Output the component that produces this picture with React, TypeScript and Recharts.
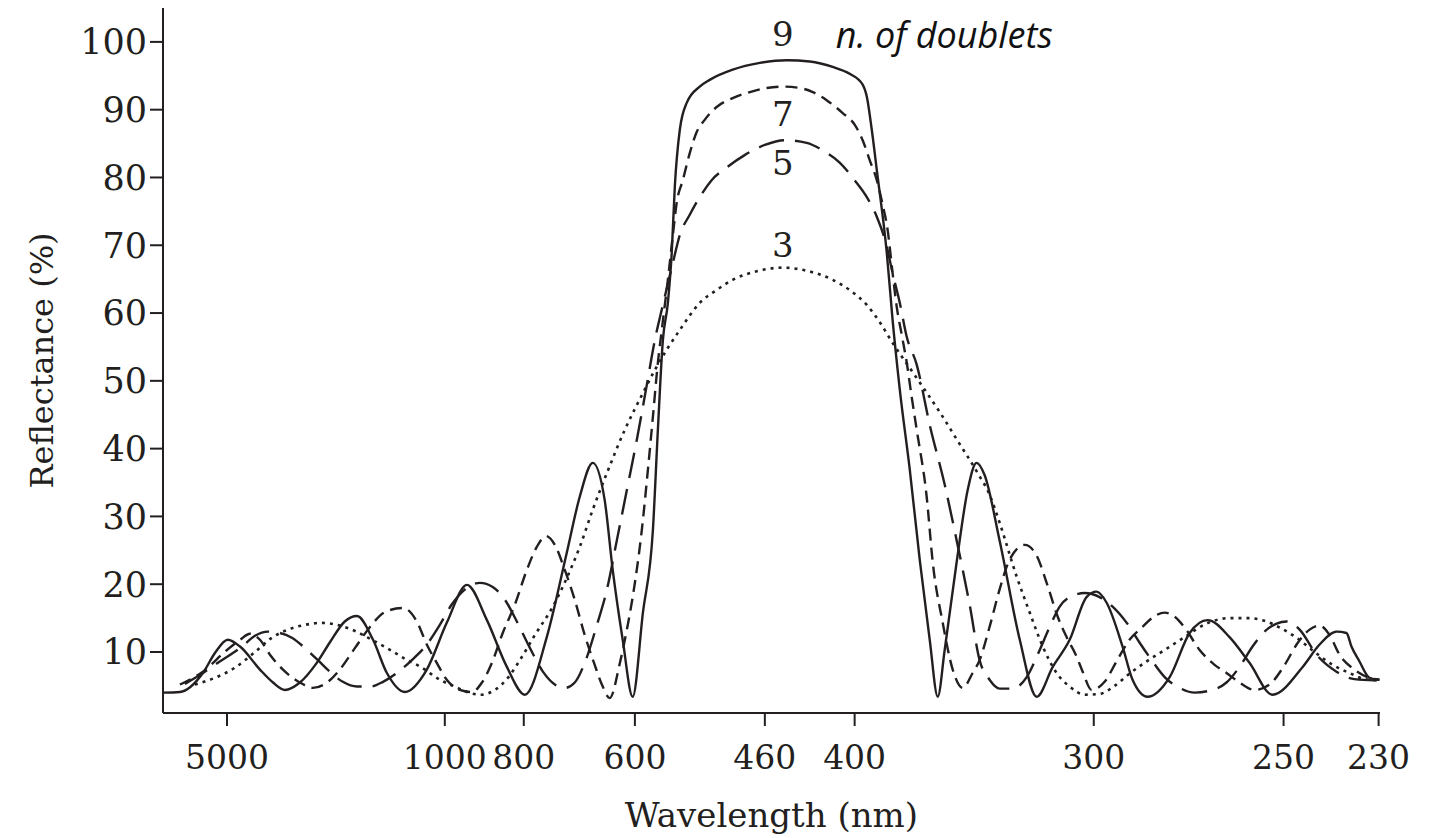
import { LineChart, Line, XAxis, YAxis, ReferenceDot } from "recharts";

// x = wavenumber (1/µm), labelled below in wavelength (nm)
const wavelengthTicks = [0.195, 0.981, 1.266, 1.667, 2.136, 2.46, 3.323, 4.008, 4.351];
const wavelengthLabels = ["5000", "1000", "800", "600", "460", "400", "300", "250", "230"];
const reflectanceTicks = [10, 20, 30, 40, 50, 60, 70, 80, 90, 100];

// [wavenumber, reflectance %]
const nineDoublets: [number, number][] = [
  [-0.036, 4.0], [0.025, 4.1], [0.108, 6.9], [0.152, 9.9], [0.198, 11.8], [0.242, 10.8],
  [0.314, 7.4], [0.361, 5.5], [0.404, 4.4], [0.458, 5.5], [0.519, 8.4], [0.566, 11.4],
  [0.62, 14.5], [0.664, 15.3], [0.722, 11.8], [0.772, 6.9], [0.837, 4.1], [0.916, 7.4],
  [0.988, 14.3], [1.061, 19.9], [1.133, 14.7], [1.205, 7.8], [1.27, 3.7], [1.349, 12.2],
  [1.421, 24.6], [1.468, 32.9], [1.515, 37.9], [1.558, 32.4], [1.587, 22.1], [1.623, 11.8],
  [1.659, 3.4], [1.696, 15.8], [1.732, 28.0], [1.75, 42.8], [1.768, 56.0], [1.786, 61.5],
  [1.8, 68.9], [1.811, 78.6], [1.829, 87.0], [1.854, 91.0], [1.901, 93.4], [1.937, 94.4],
  [2.02, 95.9], [2.118, 96.9], [2.215, 97.3], [2.298, 97.1], [2.381, 96.3], [2.442, 95.3],
  [2.489, 93.7], [2.504, 91.9], [2.522, 87.0], [2.54, 81.1], [2.576, 68.9], [2.597, 59.0],
  [2.623, 48.7], [2.659, 36.9], [2.695, 23.6], [2.731, 11.8], [2.76, 3.4], [2.785, 10.3],
  [2.828, 23.2], [2.868, 33.9], [2.9, 37.9], [2.929, 36.1], [2.983, 26.5], [3.056, 11.8],
  [3.117, 3.4], [3.175, 7.8], [3.236, 11.8], [3.297, 18.1], [3.333, 18.9], [3.369, 17.3],
  [3.427, 10.8], [3.463, 5.9], [3.517, 3.4], [3.597, 6.3], [3.669, 12.8], [3.734, 14.7],
  [3.813, 12.2], [3.885, 8.4], [3.968, 3.7], [4.077, 7.8], [4.138, 11.1], [4.199, 13.0],
  [4.235, 12.8], [4.253, 10.8], [4.282, 8.6], [4.318, 6.2], [4.354, 5.9],
];

const sevenDoublets: [number, number][] = [
  [0.025, 5.2], [0.108, 7.1], [0.195, 10.3], [0.242, 11.8], [0.278, 12.7], [0.314, 11.8],
  [0.35, 9.6], [0.397, 7.4], [0.458, 5.5], [0.505, 4.7], [0.556, 5.5], [0.602, 7.4],
  [0.657, 10.6], [0.711, 13.7], [0.765, 15.9], [0.83, 16.5], [0.88, 14.5], [0.916, 11.1],
  [0.952, 8.4], [0.988, 5.9], [1.035, 4.4], [1.079, 4.1], [1.115, 5.5], [1.151, 8.4],
  [1.19, 12.8], [1.234, 17.0], [1.277, 22.1], [1.313, 25.5], [1.346, 27.1], [1.378, 25.8],
  [1.414, 22.1], [1.45, 17.7], [1.486, 12.5], [1.522, 8.1], [1.551, 4.9], [1.576, 3.2],
  [1.613, 8.4], [1.638, 13.3], [1.659, 18.1], [1.692, 28.0], [1.714, 36.9], [1.732, 44.7],
  [1.75, 52.7], [1.764, 57.5], [1.786, 64.9], [1.804, 71.5], [1.818, 76.3], [1.84, 79.6],
  [1.865, 83.6], [1.89, 86.7], [1.919, 88.5], [1.962, 90.4], [2.02, 91.7], [2.082, 92.6],
  [2.143, 93.2], [2.201, 93.4], [2.262, 93.2], [2.309, 92.6], [2.359, 91.4], [2.417, 89.5],
  [2.46, 87.8], [2.489, 85.5], [2.514, 82.6], [2.54, 79.6], [2.561, 76.0], [2.579, 72.3],
  [2.597, 65.9], [2.612, 60.9], [2.63, 56.8], [2.648, 52.7], [2.666, 47.6], [2.684, 42.8],
  [2.72, 32.9], [2.742, 23.2], [2.778, 14.3], [2.814, 7.4], [2.85, 4.7], [2.886, 6.9],
  [2.911, 8.8], [2.947, 13.7], [2.983, 19.2], [3.019, 23.6], [3.074, 25.8], [3.117, 24.2],
  [3.153, 20.2], [3.193, 15.2], [3.225, 12.2], [3.258, 9.6], [3.283, 7.1], [3.315, 4.4],
  [3.362, 5.6], [3.405, 8.6], [3.452, 11.8], [3.496, 13.6], [3.543, 15.3], [3.579, 15.8],
  [3.615, 15.2], [3.651, 13.6], [3.705, 10.3], [3.759, 8.1], [3.802, 6.9], [3.849, 5.5],
  [3.903, 4.4], [3.957, 5.2], [4.012, 8.1], [4.055, 11.1], [4.102, 13.3], [4.138, 13.9],
  [4.174, 12.5], [4.21, 9.6], [4.264, 7.4], [4.318, 6.2], [4.354, 5.9],
];

const fiveDoublets: [number, number][] = [
  [0.043, 5.3], [0.097, 6.6], [0.162, 8.4], [0.249, 10.8], [0.296, 12.4], [0.343, 13.0],
  [0.386, 12.8], [0.429, 12.1], [0.476, 10.6], [0.523, 8.8], [0.566, 7.1], [0.613, 5.6],
  [0.664, 4.9], [0.711, 4.9], [0.758, 5.6], [0.808, 6.9], [0.862, 8.8], [0.916, 11.1],
  [0.963, 14.0], [1.006, 17.0], [1.053, 19.2], [1.108, 20.2], [1.154, 19.6], [1.198, 17.7],
  [1.241, 14.5], [1.288, 10.6], [1.335, 7.1], [1.378, 5.2], [1.414, 4.7], [1.45, 5.5],
  [1.486, 8.4], [1.53, 14.0], [1.566, 19.2], [1.602, 26.5], [1.638, 33.9], [1.674, 41.3],
  [1.71, 49.4], [1.739, 56.0], [1.768, 61.2], [1.804, 67.4], [1.829, 71.5], [1.865, 74.5],
  [1.901, 77.1], [1.944, 79.6], [1.999, 81.5], [2.063, 83.3], [2.136, 84.8], [2.208, 85.5],
  [2.287, 85.1], [2.352, 83.8], [2.406, 82.2], [2.46, 79.6], [2.504, 77.1], [2.54, 74.2],
  [2.576, 69.8], [2.597, 65.9], [2.623, 61.5], [2.648, 56.5], [2.684, 52.4], [2.731, 43.5],
  [2.785, 34.7], [2.828, 26.5], [2.875, 17.0], [2.911, 8.8], [2.947, 5.9], [2.983, 4.6],
  [3.03, 4.6], [3.081, 6.3], [3.128, 10.3], [3.164, 13.7], [3.2, 16.7], [3.247, 18.3],
  [3.29, 18.7], [3.344, 18.1], [3.391, 16.7], [3.442, 14.3], [3.488, 11.4], [3.532, 8.8],
  [3.579, 6.3], [3.633, 4.7], [3.687, 4.0], [3.741, 4.3], [3.802, 5.5], [3.849, 7.8],
  [3.896, 10.8], [3.939, 13.0], [3.983, 14.2], [4.019, 14.5], [4.066, 13.3], [4.127, 9.6],
  [4.199, 7.1], [4.264, 6.0], [4.354, 5.8],
];

const threeDoublets: [number, number][] = [
  [0.079, 5.2], [0.152, 6.2], [0.224, 7.7], [0.296, 10.0], [0.357, 12.1], [0.415, 13.3],
  [0.476, 14.0], [0.538, 14.3], [0.602, 13.9], [0.657, 13.1], [0.718, 11.8], [0.776, 10.5],
  [0.837, 9.0], [0.898, 7.7], [0.963, 5.9], [1.017, 4.9], [1.061, 4.1], [1.108, 3.7],
  [1.162, 4.4], [1.209, 6.2], [1.252, 8.8], [1.306, 12.5], [1.371, 16.7], [1.421, 20.9],
  [1.468, 25.5], [1.515, 31.0], [1.566, 36.4], [1.631, 42.8], [1.696, 48.2], [1.739, 51.6],
  [1.782, 54.6], [1.829, 57.5], [1.901, 61.5], [1.962, 63.4], [2.02, 64.9], [2.11, 66.2],
  [2.201, 66.7], [2.291, 66.2], [2.381, 64.9], [2.442, 63.4], [2.504, 61.2], [2.55, 58.7],
  [2.597, 55.6], [2.659, 51.9], [2.706, 49.1], [2.767, 45.4], [2.828, 41.4], [2.904, 36.4],
  [2.947, 33.2], [2.983, 29.1], [3.045, 21.1], [3.092, 15.8], [3.139, 10.8], [3.189, 6.9],
  [3.236, 4.9], [3.29, 3.7], [3.344, 3.8], [3.398, 5.0], [3.452, 6.8], [3.517, 8.7],
  [3.579, 10.3], [3.651, 12.2], [3.73, 14.2], [3.813, 15.0], [3.885, 15.0], [3.939, 14.6],
  [3.994, 13.6], [4.055, 12.1], [4.12, 10.0], [4.185, 8.1], [4.246, 6.9], [4.3, 6.0],
  [4.354, 5.8],
];

const curveTags = [
  { text: "9", k: 2.201, r: 101.1 },
  { text: "7", k: 2.201, r: 89.3 },
  { text: "5", k: 2.201, r: 82.2 },
  { text: "3", k: 2.201, r: 70.1 },
];

const ink = "#231f20";
const serif = "'DejaVu Serif', 'Liberation Serif', serif";

const toPoints = (rows: [number, number][]) => rows.map(([k, r]) => ({ k, r }));

function Tag({ viewBox, text, sans }: any) {
  const x = viewBox.x + viewBox.width / 2;
  const y = viewBox.y + viewBox.height / 2;
  if (sans) {
    return (
      <text x={x} y={y} dominantBaseline="central" fontFamily="'Open Sans', sans-serif"
        fontStyle="italic" fontSize={36} fill="#111">
        {text}
      </text>
    );
  }
  return (
    <text x={x} y={y} textAnchor="middle" dominantBaseline="central" fontFamily={serif}
      fontSize={34} fill={ink}>
      {text}
    </text>
  );
}

function YTitle({ viewBox }: any) {
  const x = viewBox.x + 42;
  const y = viewBox.y + viewBox.height / 2;
  return (
    <text x={x} y={y} textAnchor="middle" dominantBaseline="central" fontFamily={serif}
      fontSize={32} fill={ink} transform={`rotate(-90 ${x} ${y})`}>
      Reflectance (%)
    </text>
  );
}

function XTitle({ viewBox }: any) {
  const x = viewBox.x + viewBox.width / 2;
  const y = viewBox.y + 102;
  return (
    <text x={x} y={y} textAnchor="middle" dominantBaseline="central" fontFamily={serif}
      fontSize={34} fill={ink}>
      Wavelength (nm)
    </text>
  );
}

const yTickStyle = { fontSize: 35, fontFamily: serif, fill: ink };
const xTickStyle = { fontSize: 33, fontFamily: serif, fill: ink };

export default function App() {
  return (
    <div style={{ position: "absolute", left: 0, top: 0, width: 1438, height: 838, background: "#fff" }}>
      <LineChart width={1438} height={838} margin={{ top: 8, right: 58, bottom: 0, left: 0 }}>
        <XAxis
          type="number"
          dataKey="k"
          domain={[-0.036, 4.356]}
          allowDataOverflow
          ticks={wavelengthTicks}
          tickFormatter={(v: number) => wavelengthLabels[wavelengthTicks.indexOf(v)]}
          interval={0}
          height={125}
          tickSize={13}
          tickMargin={20}
          tick={xTickStyle}
          axisLine={{ stroke: ink, strokeWidth: 2 }}
          tickLine={{ stroke: ink, strokeWidth: 2 }}
          label={<XTitle />}
        />
        <YAxis
          type="number"
          domain={[1, 105]}
          allowDataOverflow
          ticks={reflectanceTicks}
          interval={0}
          width={163}
          tickSize={13}
          tickMargin={3}
          tick={yTickStyle}
          axisLine={{ stroke: ink, strokeWidth: 2 }}
          tickLine={{ stroke: ink, strokeWidth: 2 }}
          label={<YTitle />}
        />
        <Line data={toPoints(threeDoublets)} dataKey="r" type="monotone" stroke={ink}
          strokeWidth={2.6} strokeDasharray="3 5" dot={false} isAnimationActive={false} />
        <Line data={toPoints(fiveDoublets)} dataKey="r" type="monotone" stroke={ink}
          strokeWidth={2.4} strokeDasharray="26 11" dot={false} isAnimationActive={false} />
        <Line data={toPoints(sevenDoublets)} dataKey="r" type="monotone" stroke={ink}
          strokeWidth={2.4} strokeDasharray="12 7" dot={false} isAnimationActive={false} />
        <Line data={toPoints(nineDoublets)} dataKey="r" type="monotone" stroke={ink}
          strokeWidth={2.4} dot={false} isAnimationActive={false} />
        {curveTags.map((t) => (
          <ReferenceDot key={t.text} x={t.k} y={t.r} r={1} fill="none" stroke="none"
            label={<Tag text={t.text} />} />
        ))}
        <ReferenceDot x={2.392} y={101.1} r={1} fill="none" stroke="none"
          label={<Tag text="n. of doublets" sans />} />
      </LineChart>
    </div>
  );
}
